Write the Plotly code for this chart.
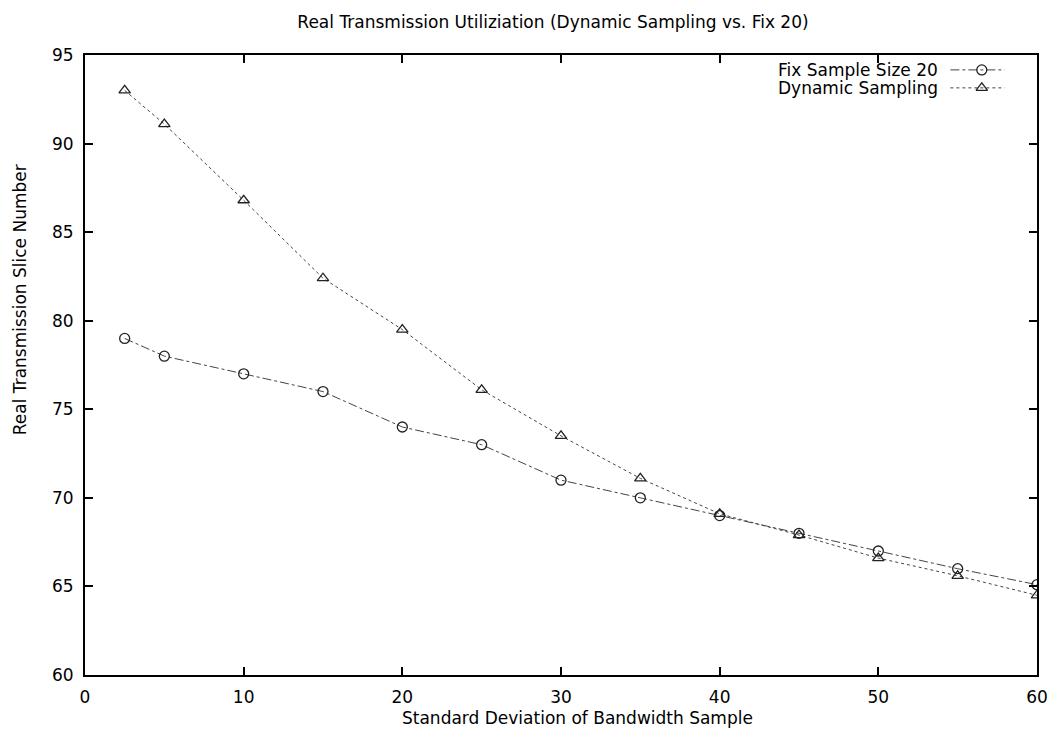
import plotly.graph_objects as go

x_values = [2.5, 5, 10, 15, 20, 25, 30, 35, 40, 45, 50, 55, 60]
fix_sample_20 = [79, 78, 77, 76, 74, 73, 71, 70, 69, 68, 67, 66, 65.1]
dynamic_sampling = [93, 91.1, 86.8, 82.4, 79.5, 76.1, 73.5, 71.1, 69.1, 67.9, 66.6, 65.6, 64.5]

series_names = ["Fix Sample Size 20", "Dynamic Sampling"]
x_ticks = [0, 10, 20, 30, 40, 50, 60]
y_ticks = [60, 65, 70, 75, 80, 85, 90, 95]

font_family = "DejaVu Sans, Liberation Sans, Arial, sans-serif"
text_size = 17
line_color = "#444444"

fig = go.Figure()

fig.add_trace(go.Scatter(
    x=x_values, y=fix_sample_20, mode="lines+markers", name=series_names[0],
    line=dict(color=line_color, width=1, dash="dashdot"),
    marker=dict(symbol="circle-open", size=10, color="#222222", line=dict(width=1.3)),
    showlegend=False,
))
fig.add_trace(go.Scatter(
    x=x_values, y=dynamic_sampling, mode="lines+markers", name=series_names[1],
    line=dict(color=line_color, width=1, dash="dot"),
    marker=dict(symbol="triangle-up-open", size=10, color="#222222", line=dict(width=1.3)),
    showlegend=False,
))

# legend samples (gnuplot-style: text right-aligned, sample to the right)
legend_y = [0.976, 0.947]
legend_symbols = ["circle-open", "triangle-up-open"]
legend_dash = ["dashdot", "dot"]
for name, ly, sym, dsh in zip(series_names, legend_y, legend_symbols, legend_dash):
    fig.add_trace(go.Scatter(
        x=[0.909, 0.942, 0.966], y=[ly, ly, ly], xaxis="x2", yaxis="y2",
        mode="lines", line=dict(color=line_color, width=1, dash=dsh),
        showlegend=False, hoverinfo="skip",
    ))
    fig.add_trace(go.Scatter(
        x=[0.942], y=[ly], xaxis="x2", yaxis="y2", mode="markers",
        marker=dict(symbol=sym, size=10, color="#222222", line=dict(width=1.3)),
        showlegend=False, hoverinfo="skip",
    ))
    fig.add_annotation(
        x=0.898, y=ly, xref="x2", yref="y2", text=name, showarrow=False,
        xanchor="right", yanchor="middle",
        font=dict(family=font_family, size=text_size, color="#000000"),
    )

# axis titles
fig.add_annotation(
    x=(577 - 85) / 952, y=(675 - 718) / 620, xref="paper", yref="paper",
    text="Standard Deviation of Bandwidth Sample", showarrow=False,
    xanchor="center", yanchor="middle",
    font=dict(family=font_family, size=text_size, color="#000000"),
)
fig.add_annotation(
    x=-0.068, y=(675 - 300) / 620, xref="paper", yref="paper",
    text="Real Transmission Slice Number", showarrow=False, textangle=-90,
    xanchor="center", yanchor="middle",
    font=dict(family=font_family, size=text_size, color="#000000"),
)

axis_common = dict(
    showgrid=False, zeroline=False, showline=True, linecolor="#000000", linewidth=2,
    mirror="ticks", ticks="inside", ticklen=8, tickwidth=1.5, tickcolor="#000000",
    tickfont=dict(family=font_family, size=text_size, color="#000000"),
    automargin=False,
)

fig.update_layout(
    width=1052, height=740,
    paper_bgcolor="white", plot_bgcolor="white",
    margin=dict(l=85, r=15, t=55, b=65),
    title=dict(text="Real Transmission Utiliziation (Dynamic Sampling vs. Fix 20)",
               xref="container", x=553 / 1052, xanchor="center",
               yref="container", y=1 - 22 / 740, yanchor="middle",
               font=dict(family=font_family, size=text_size, color="#000000")),
    xaxis=dict(range=[0, 60], tickvals=x_ticks, ticklabelstandoff=6, **axis_common),
    yaxis=dict(range=[60, 95], tickvals=y_ticks, ticklabelstandoff=6, **axis_common),
    xaxis2=dict(range=[0, 1], overlaying="x", visible=False, fixedrange=True),
    yaxis2=dict(range=[0, 1], overlaying="y", visible=False, fixedrange=True),
)

fig.write_html("out.html")
